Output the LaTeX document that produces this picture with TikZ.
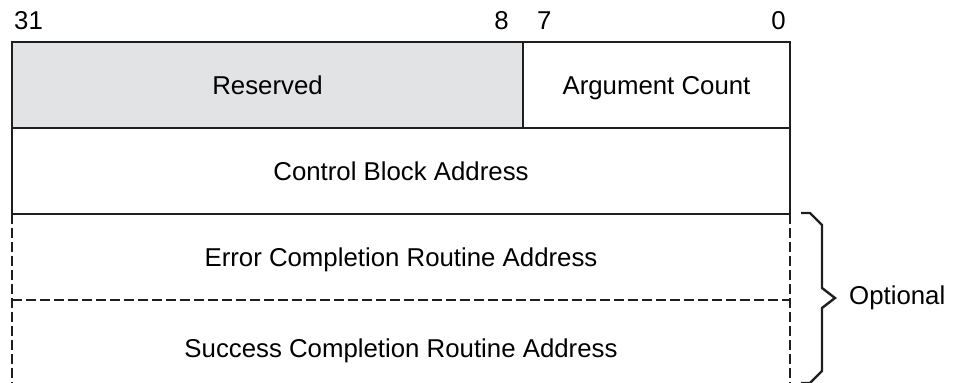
\documentclass[tikz,border=0pt]{standalone}
\usepackage{fontspec}
\setmainfont{Liberation Sans}
\usetikzlibrary{positioning}
\definecolor{resgray}{RGB}{226,227,229}

\begin{document}
\begin{tikzpicture}[
    x=1pt, y=-1pt,
    font=\fontsize{25.8}{30}\selectfont,
    field/.style={rectangle, draw=black!88, line width=2.4pt, inner sep=0pt, outer sep=0pt, minimum height=86pt, text depth=0pt},
    resv/.style={field, fill=resgray, minimum width=511pt},
    full/.style={field, minimum width=778pt},
    opt/.style={full, draw=none},
    optline/.style={draw=black!88, line width=2.4pt, dash pattern=on 10pt off 4pt},
    bitno/.style={inner sep=0pt, anchor=base},
]
    \useasboundingbox (0,0) rectangle (959,383);

    % Nodes
    \node[resv, anchor=north west] (Resv) at (12,42) {Reserved};
    \node[field, minimum width=267pt] (Argc) [right=0pt of Resv] {Argument Count};
    \node[full] (Ctrl) [below=0pt of Resv.south west, anchor=north west] {Control Block Address};
    \node[opt] (Errr) [below=0pt of Ctrl] {Error Completion Routine Address};
    \node[opt, minimum height=96pt] (Succ) [below=0pt of Errr.south, anchor=north] {Success Completion Routine Address};

    \node[bitno, anchor=base west] (b31) at (14,29) {31};
    \node[bitno, anchor=base east] (b8) at (509,29) {8};
    \node[bitno, anchor=base west] (b7) at (537,29) {7};
    \node[bitno, anchor=base east] (b0) at (786,29) {0};

    % Dashed lines
    \draw[optline] (Errr.north west) -- (Succ.south west);
    \draw[optline] (Errr.north east) -- (Succ.south east);
    \draw[optline] (Errr.south west) -- (Errr.south east);
    \draw[optline] (Succ.south west) -- (Succ.south east);

    % Brace
    \coordinate (tip) at (835,298);
    \node[anchor=west, inner sep=0pt] (Optn) at (849,298) {Optional};
    \draw[black!88, line width=2.4pt, line join=miter]
        (801,213) -- (810,213) -- (822,225) -- (822,288) -- (tip)
        -- (822,308) -- (822,371) -- (810,383) -- (801,383);

\end{tikzpicture}
\end{document}
